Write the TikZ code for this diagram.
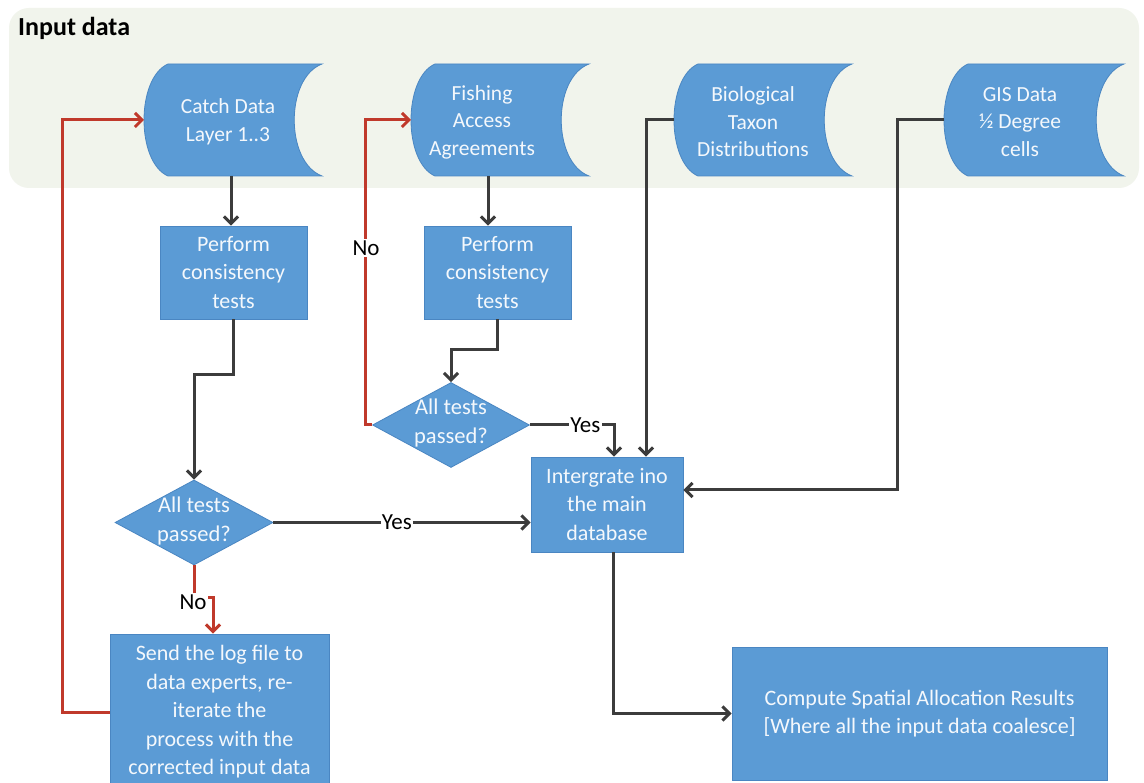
\documentclass[tikz,border=0pt]{standalone}
\usepackage{fontspec}
\setmainfont{Carlito}
\usetikzlibrary{arrows.meta,calc,shapes.geometric}
\definecolor{boxblue}{HTML}{5B9BD5}
\definecolor{boxedge}{HTML}{4A86C2}
\definecolor{panelc}{HTML}{F1F4EC}
\definecolor{lineg}{HTML}{3C3C3C}
\definecolor{liner}{HTML}{C0392B}
\definecolor{txtw}{HTML}{F4F8FC}
\tikzset{
  procbox/.style={rectangle, draw=boxedge, line width=0.8pt, fill=boxblue, text=txtw,
    align=center, font=\fontsize{22}{28.5}\selectfont, inner sep=0pt},
  decbox/.style={diamond, draw=boxedge, line width=0.8pt, fill=boxblue, inner sep=0pt},
  dectxt/.style={text=txtw, align=center, font=\fontsize{22.5}{28.5}\selectfont, inner sep=0pt},
  stxt/.style={text=txtw, align=center, font=\fontsize{21.5}{27.5}\selectfont, inner sep=0pt},
  lbl/.style={font=\fontsize{23}{24}\selectfont, text=black, fill=white, inner sep=1.2pt},
  conn/.style={draw=lineg, line width=3pt, -{Straight Barb[length=7pt,width=14pt]}},
  redconn/.style={draw=liner, line width=3pt, -{Straight Barb[length=7pt,width=14pt]}},
}
\newcommand\mystored[5]{%
  \path[fill=boxblue, draw=boxedge, line width=0.8pt]
    (#2+24,64) -- (#3,64) .. controls (#3-37,78) and (#3-37,162) .. (#3,176)
    -- (#2+24,176) .. controls (#2-8,162) and (#2-8,78) .. (#2+24,64) -- cycle;
  \coordinate (#1L) at (#2,120);
  \node[stxt] (#1) at (#5,122) {#4};
}
\begin{document}
\begin{tikzpicture}[x=1pt,y=-1pt]
\useasboundingbox (0,0) rectangle (1144,783);
\fill[white] (0,0) rectangle (1144,783);
% input panel
\fill[panelc, rounded corners=20pt] (9,8) rectangle (1139,188);
\node[anchor=base west, font=\fontsize{26}{28}\selectfont\bfseries, text=black, inner sep=0pt] (title) at (18,36) {Input data};
% stored data shapes
\mystored{catch}{144}{322}{Catch Data\\Layer 1..3}{228}
\mystored{fish}{411}{589}{Fishing\\Access\\Agreements}{482}
\mystored{bio}{674}{852}{Biological\\Taxon\\Distributions}{753}
\mystored{gis}{944}{1124}{GIS Data\\½ Degree\\cells}{1020}
\coordinate (catchB) at (231,176);
\coordinate (fishB) at (488,176);
% process boxes
\node[procbox, minimum width=147pt, minimum height=93pt] (perf1) at (233.5,272.5) {Perform\\consistency\\tests};
\node[procbox, minimum width=147pt, minimum height=93pt] (perf2) at (497.5,272.5) {Perform\\consistency\\tests};
\node[decbox, minimum width=157pt, minimum height=85pt] (dia2) at (451,425) {};
\node[dectxt] (dia2t) at (451,423) {All tests\\passed?};
\node[decbox, minimum width=158pt, minimum height=85pt] (dia1) at (194,522.5) {};
\node[dectxt] (dia1t) at (194,521) {All tests\\passed?};
\node[procbox, minimum width=152pt, minimum height=95pt] (integ) at (607,504.5) {Intergrate ino\\the main\\database};
\node[procbox, minimum width=219pt, minimum height=156pt] (send) at (219.5,712) {Send the log file to\\data experts, re-\\iterate the\\process with the\\corrected input data};
\node[procbox, minimum width=375pt, minimum height=133pt] (compute) at (919.5,713.5) {Compute Spatial Allocation Results\\{[Where all the input data coalesce]}};
% connectors
\draw[conn] (catchB) -- (catchB |- perf1.north);
\draw[conn] (fishB) -- (fishB |- perf2.north);
\draw[conn] (perf1.south) -- ++(0,55) -| (dia1.north);
\draw[conn] (perf2.south) -- ++(0,30) -| (dia2.north);
\draw[conn] (dia2.east) -| node[lbl,pos=0.33] (yes2) {Yes} ([xshift=7pt]integ.north);
\draw[conn] (bioL) -| ([xshift=39pt]integ.north);
\draw[conn] (gisL) -- ++(-47,0) |- ([yshift=14.5pt]integ.east);
\draw[conn] (dia1.east) -- node[lbl,pos=0.48] (yes1) {Yes} (dia1.east -| integ.west);
\draw[conn] ([xshift=6pt]integ.south) |- (compute.west);
\draw[redconn] (dia1.south) -- ++(0,32) -| ([xshift=-6.5pt]send.north);
\node[lbl] (no1) at (193,602) {No};
\draw[redconn] (send.west) -- ++(-47,0) |- (catchL);
\draw[redconn] (dia2.west) -- ++(-7,0) |- (fishL);
\node[lbl] (no2) at (366,248) {No};
\end{tikzpicture}
\end{document}
